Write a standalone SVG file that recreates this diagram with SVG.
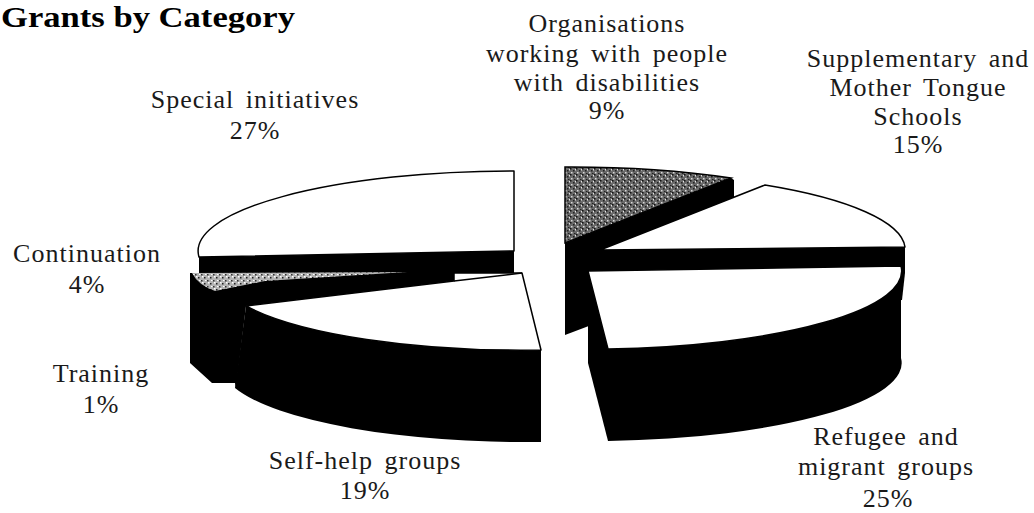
<svg xmlns="http://www.w3.org/2000/svg" width="1034" height="513" viewBox="0 0 1034 513">
<defs>
<pattern id="stipDark" width="6" height="6" patternUnits="userSpaceOnUse">
<rect width="6" height="6" fill="#6a6a6a"/>
<rect x="0" y="0" width="1.5" height="1.5" fill="#111"/>
<rect x="3" y="2" width="1.5" height="1.5" fill="#222"/>
<rect x="1" y="4" width="1.5" height="1.5" fill="#d8d8d8"/>
<rect x="4" y="5" width="1.5" height="1" fill="#222"/>
<rect x="5" y="1" width="1" height="1.5" fill="#e6e6e6"/>
</pattern>
<pattern id="stipLight" width="6" height="6" patternUnits="userSpaceOnUse">
<rect width="6" height="6" fill="#b4b4b4"/>
<rect x="0" y="1" width="1.5" height="1.5" fill="#222"/>
<rect x="3" y="4" width="1.5" height="1.5" fill="#333"/>
<rect x="4" y="0" width="1.5" height="1.5" fill="#fff"/>
<rect x="1" y="4" width="1.5" height="1" fill="#fff"/>
</pattern>
</defs>
<style>
.side{fill:#000;stroke:none}
.top{fill:#fff;stroke:#000;stroke-width:1.5;stroke-linejoin:round}
.edge{fill:none;stroke:#000;stroke-width:1.5}
.lbl{font-family:"Liberation Serif","Times New Roman",serif;font-size:26px;letter-spacing:1px;word-spacing:4px;fill:#1a1a1a;text-anchor:middle}
.title{font-family:"Liberation Serif","Times New Roman",serif;font-size:29px;font-weight:bold;fill:#000}
</style>
<rect width="1034" height="513" fill="#fff"/>
<text class="title" x="1" y="27" textLength="294" lengthAdjust="spacingAndGlyphs">Grants by Category</text>

<g id="slice-special">
<path class="side" d="M514,251 L199,257 L199,274 L514,274 Z"/>
<path class="top" d="M514,251 L199,257 A316,80 0 0 1 514,171 Z"/>
</g>

<g id="slice-organisations">
<path class="side" d="M565,243 L731,178 L734,180 L734,271 L565,335 Z"/>
<path d="M565,243 L565,167 A310,77 0 0 1 731,178 Z" fill="url(#stipDark)" stroke="#000" stroke-width="1.5"/>
</g>

<g id="slice-supplementary">
<path class="side" d="M600,250 L905,247 L905,273 L902,300 L600,320 Z"/>
<path class="top" d="M600,250 L765,185 A308,77 0 0 1 905,247 Z"/>
</g>

<g id="slice-refugee">
<path class="side" d="M901,266 A314,78 0 0 1 608,349 L608,441 A314,78 0 0 0 901,358 Z"/>
<path class="side" d="M588,271 L608,349 L608,441 L588,363 Z"/>
<path class="top" d="M588,271 L901,266 A314,78 0 0 1 608,349 Z"/>
</g>

<g id="slice-training">
<path class="side" d="M190,273 L454,273 L454,281 L246,306 L236,388 L235,383 L212,383 L190,363 Z"/>
</g>

<g id="slice-continuation">
<path d="M192,273 L407,272 L265,281 L215,291 Q198,285 192,273 Z" fill="url(#stipLight)"/>
</g>

<g id="slice-selfhelp">
<path class="side" d="M246,306 A305,77 0 0 0 541,350 L541,442 A305,77 0 0 1 235,388 Z"/>
<path class="top" d="M522,273 L541,350 A305,77 0 0 1 246,306 L454,281 L454,273 Z"/>
<path class="edge" d="M454,281 L522,273"/>
</g>

<g id="labels">
<text class="lbl" x="607" y="32">Organisations</text>
<text class="lbl" x="607" y="62">working with people</text>
<text class="lbl" x="607" y="91">with disabilities</text>
<text class="lbl" x="607" y="119">9%</text>
<text class="lbl" x="918" y="67">Supplementary and</text>
<text class="lbl" x="918" y="96">Mother Tongue</text>
<text class="lbl" x="918" y="125">Schools</text>
<text class="lbl" x="918" y="153">15%</text>
<text class="lbl" x="255" y="108">Special initiatives</text>
<text class="lbl" x="255" y="139">27%</text>
<text class="lbl" x="87" y="262">Continuation</text>
<text class="lbl" x="87" y="293">4%</text>
<text class="lbl" x="101" y="382">Training</text>
<text class="lbl" x="101" y="413">1%</text>
<text class="lbl" x="365" y="469">Self-help groups</text>
<text class="lbl" x="365" y="499">19%</text>
<text class="lbl" x="886" y="445">Refugee and</text>
<text class="lbl" x="886" y="475">migrant groups</text>
<text class="lbl" x="888" y="507">25%</text>
</g>
</svg>
